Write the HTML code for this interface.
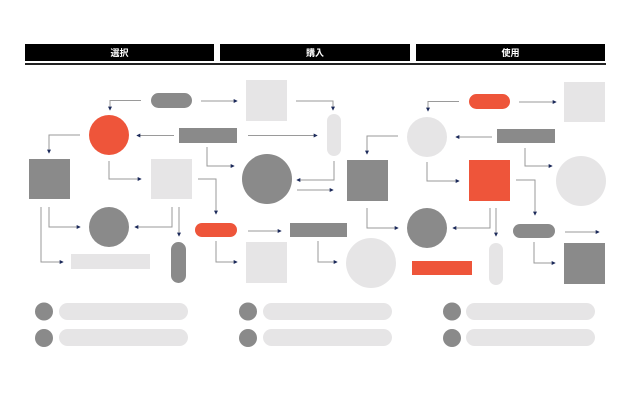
<!DOCTYPE html>
<html><head><meta charset="utf-8"><style>
body{margin:0;background:#fff}
svg{display:block}
text{font-family:"Liberation Sans","Noto Sans CJK JP",sans-serif;font-weight:bold;font-size:9px;fill:#fff}
</style></head><body>
<svg width="632" height="418" viewBox="0 0 632 418" xmlns="http://www.w3.org/2000/svg">
<defs><marker id="a" viewBox="0 0 6 6" refX="5" refY="3" markerWidth="4" markerHeight="4" orient="auto"><path d="M0,0L6,3L0,6z" fill="#1c2a5a"/></marker></defs>
<rect x="25" y="44" width="189" height="17" fill="#000"/>
<rect x="220" y="44" width="190" height="17" fill="#000"/>
<rect x="416" y="44" width="189" height="17" fill="#000"/>
<rect x="25" y="63" width="581" height="2" fill="#222"/>
<text x="119.5" y="56" text-anchor="middle">選択</text>
<text x="315" y="56" text-anchor="middle">購入</text>
<text x="510.5" y="56" text-anchor="middle">使用</text>
<g fill="#8a8a8a">
<rect x="151" y="93" width="41" height="15" rx="7.5"/>
<rect x="179" y="128" width="58" height="15"/>
<rect x="29" y="159" width="41" height="40"/>
<circle cx="267" cy="179" r="25"/>
<circle cx="109" cy="227" r="20"/>
<rect x="290" y="223" width="57" height="14"/>
<rect x="171" y="242" width="15" height="41" rx="7.5"/>
<rect x="347" y="160" width="41" height="41"/>
<rect x="497" y="129" width="58" height="14"/>
<circle cx="427" cy="228" r="20"/>
<rect x="513" y="224" width="42" height="14" rx="7"/>
<rect x="564" y="243" width="41" height="41"/>
</g>
<g fill="#e6e5e6">
<rect x="246" y="80" width="41" height="41"/>
<rect x="151" y="159" width="41" height="40"/>
<rect x="71" y="254" width="79" height="15"/>
<rect x="246" y="242" width="41" height="41"/>
<rect x="327" y="114" width="14" height="42" rx="7"/>
<circle cx="371" cy="263" r="25"/>
<rect x="564" y="82" width="41" height="40"/>
<circle cx="427" cy="137" r="20"/>
<circle cx="581" cy="181" r="25"/>
<rect x="489" y="243" width="14" height="42" rx="7"/>
</g>
<g fill="#ee553a">
<circle cx="109" cy="135" r="20"/>
<rect x="195" y="223" width="42" height="14" rx="7"/>
<rect x="469" y="94" width="41" height="15" rx="7.5"/>
<rect x="469" y="160" width="41" height="41"/>
<rect x="412" y="261" width="60" height="14"/>
</g>
<g fill="none" stroke="#9a9a9a" stroke-width="1" marker-end="url(#a)">
<path d="M141 100.5H110V110"/>
<path d="M201 101H237"/>
<path d="M296 101H333V110"/>
<path d="M174 135.5H137"/>
<path d="M248 135.5H317"/>
<path d="M80 135H49V153"/>
<path d="M109 161V179H141"/>
<path d="M207 147V166H234"/>
<path d="M198 179H216V214"/>
<path d="M334 161V180H297"/>
<path d="M297 190H333"/>
<path d="M49 207V227H80"/>
<path d="M41 207V262H63"/>
<path d="M172 207V227H135"/>
<path d="M179 207V236"/>
<path d="M248 231H281"/>
<path d="M216 241V262H237"/>
<path d="M318 241V262H337"/>
<path d="M459 101.5H428V111"/>
<path d="M519 102H556"/>
<path d="M492 137H456"/>
<path d="M398 136H367V154"/>
<path d="M427 162V181H459"/>
<path d="M525 148V166H552"/>
<path d="M516 180H535V215"/>
<path d="M367 208V228H398"/>
<path d="M490 208V228H453"/>
<path d="M496 208V236"/>
<path d="M565 232H599"/>
<path d="M534 242V263H555"/>
</g>
<g fill="#8a8a8a">
<circle cx="44" cy="311.5" r="9"/><circle cx="44" cy="338" r="9"/>
<circle cx="248" cy="311.5" r="9"/><circle cx="248" cy="338" r="9"/>
<circle cx="452" cy="311.5" r="9"/><circle cx="452" cy="338" r="9"/>
</g>
<g fill="#e6e5e6">
<rect x="59" y="303" width="129" height="17" rx="8.5"/><rect x="59" y="329" width="129" height="17" rx="8.5"/>
<rect x="263" y="303" width="129" height="17" rx="8.5"/><rect x="263" y="329" width="129" height="17" rx="8.5"/>
<rect x="466" y="303" width="129" height="17" rx="8.5"/><rect x="466" y="329" width="129" height="17" rx="8.5"/>
</g>
</svg>
</body></html>
